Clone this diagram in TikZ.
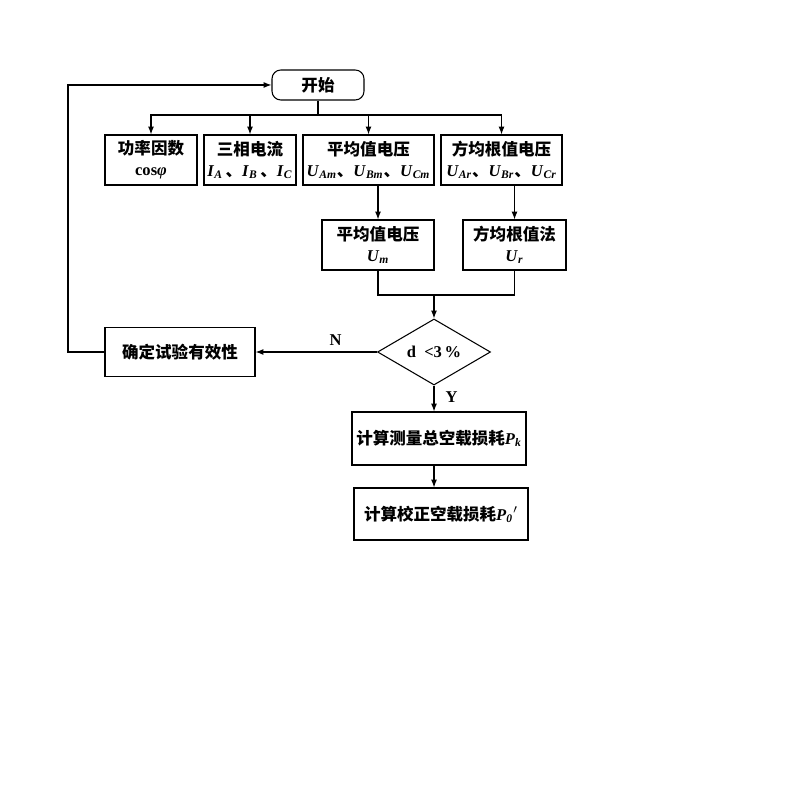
\documentclass[tikz,border=0pt]{standalone}
\usepackage{fontspec}
\setmainfont{Liberation Serif}
\newfontfamily\cjk{Noto Sans CJK SC}
\usetikzlibrary{shapes.geometric,arrows.meta}

\newcommand{\sub}[2]{\textit{#1}\textsubscript{\textit{#2}}}

\begin{document}
\begin{tikzpicture}[x=0.02cm,y=-0.02cm,
    line width=0.6pt,
    >={Latex[length=4.5pt,width=3.4pt]},
    box/.style={draw,align=center,inner sep=1pt,
      font=\fontsize{9.4}{12}\selectfont\bfseries},
    label/.style={font=\fontsize{9.4}{12}\selectfont\bfseries}]
  \useasboundingbox (0,0) rectangle (800,800);

  \coordinate (bus) at (318,115);
  \coordinate (join) at (434,295);
  \coordinate (loop) at (68,85);

  \node[box,rounded corners=5pt,minimum width=1.84cm,minimum height=0.6cm] (start) at (318,85) {\cjk 开始};

  \node[box,minimum width=1.84cm,minimum height=1cm] (gl) at (151,160) {{\cjk 功率因数}\\cos\textit{φ}};
  \node[box,minimum width=1.84cm,minimum height=1cm] (dl) at (250,160) {{\cjk 三相电流}\\\sub{I}{A}\,{\cjk 、}\sub{I}{B}\,{\cjk 、}\sub{I}{C}};
  \node[box,minimum width=2.62cm,minimum height=1cm] (pj) at (368.5,160) {{\cjk 平均值电压}\\\sub{U}{Am}{\cjk 、}\sub{U}{Bm}{\cjk 、}\sub{U}{Cm}};
  \node[box,minimum width=2.42cm,minimum height=1cm] (fj) at (501.5,160) {{\cjk 方均根值电压}\\\sub{U}{Ar}{\cjk 、}\sub{U}{Br}{\cjk 、}\sub{U}{Cr}};

  \node[box,minimum width=2.24cm,minimum height=1cm] (pjm) at (378,245) {{\cjk 平均值电压}\\\sub{U}{m}};
  \node[box,minimum width=2.06cm,minimum height=1cm] (fjf) at (514.5,245) {{\cjk 方均根值法}\\\sub{U}{r}};

  \node[box,diamond,inner sep=0pt,minimum width=2.26cm,minimum height=1.24cm] (pd) at (434,352) {d\ \ {<}3\,\%};
  \node[box,minimum width=3cm,minimum height=0.98cm] (yx) at (180,352) {\cjk 确定试验有效性};

  \node[box,minimum width=3.48cm,minimum height=1.06cm] (zk) at (439,438.5) {{\cjk 计算测量总空载损耗}\sub{P}{k}};
  \node[box,minimum width=3.48cm,minimum height=1.04cm] (jz) at (441,514) {{\cjk 计算校正空载损耗}\sub{P}{0}$'$};

  \draw (start) -- (bus);
  \foreach \n in {gl,dl,pj,fj}
    \draw[->] (bus) -| (\n.north);
  \draw[->] (pjm.north |- pj.south) -- (pjm.north);
  \draw[->] (fjf.north |- fj.south) -- (fjf.north);

  \draw (pjm.south) -- (pjm.south |- join) -- (fjf.south |- join) -- (fjf.south);
  \draw[->] (join) -- (pd.north);

  \draw[->] (pd.west) -- (yx.east) node[label,pos=0.34,above] {N};
  \draw[->] (yx.west) -| (loop) -- (start.west);

  \draw[->] (pd.south) -- (pd.south |- zk.north) node[label,midway,right,xshift=3pt,yshift=1pt] {Y};
  \draw[->] (pd.south |- zk.south) -- (pd.south |- jz.north);
\end{tikzpicture}
\end{document}
